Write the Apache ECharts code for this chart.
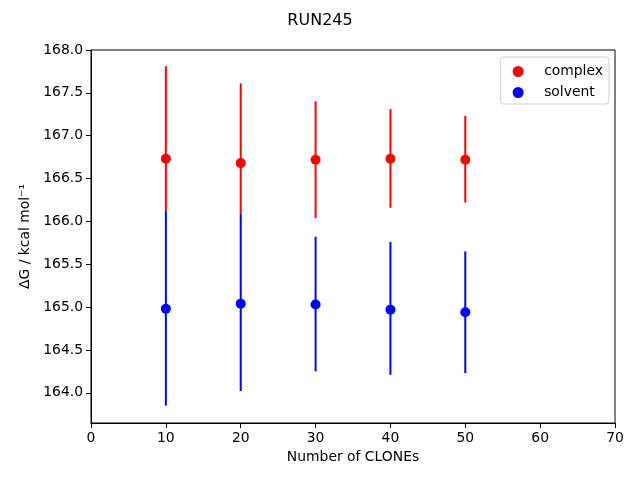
<!DOCTYPE html>
<html>
<head>
<meta charset="utf-8">
<script src="https://cdn.jsdelivr.net/npm/echarts@6/dist/echarts.min.js"></script>
<style>html,body{margin:0;padding:0;background:#fff}#c{width:640px;height:480px}</style>
</head>
<body>
<div id="c"></div>
<script>
var clones = [10, 20, 30, 40, 50];
var complexMean = [166.73, 166.68, 166.72, 166.73, 166.72];
var complexLow  = [166.12, 166.09, 166.04, 166.16, 166.22];
var complexHigh = [167.81, 167.61, 167.40, 167.31, 167.23];
var solventMean = [164.98, 165.04, 165.03, 164.97, 164.94];
var solventLow  = [163.85, 164.02, 164.25, 164.21, 164.23];
var solventHigh = [166.12, 166.09, 165.82, 165.76, 165.65];
var yTicks = [164.0, 164.5, 165.0, 165.5, 166.0, 166.5, 167.0, 167.5, 168.0];

var FONT = 'DejaVu Sans';
function pts(m){ return clones.map(function(x,i){return [x, m[i]];}); }
function errs(lo, hi){ return clones.map(function(x,i){return [x, lo[i], hi[i]];}); }
function errSeries(name, lo, hi, color){
  return {
    name: name, type: 'custom', z: 2,
    data: errs(lo, hi),
    encode: {x: 0, y: [1, 2]},
    renderItem: function(params, api){
      var a = api.coord([api.value(0), api.value(1)]);
      var b = api.coord([api.value(0), api.value(2)]);
      return {type: 'line', shape: {x1: a[0], y1: a[1], x2: b[0], y2: b[1]},
              style: {stroke: color, lineWidth: 2}};
    }
  };
}
var chart = echarts.init(document.getElementById('c'), null, {renderer: 'canvas'});
chart.setOption({
  animation: false,
  backgroundColor: '#fff',
  title: {text: 'RUN245', left: 'center', top: 8,
          textStyle: {fontFamily: FONT, fontSize: 16, fontWeight: 'normal', color: '#000'}},
  grid: {left: 91, right: 25, top: 50, bottom: 57, show: true, borderColor: '#000', borderWidth: 1, containLabel: false},
  legend: {
    orient: 'vertical', right: 31, top: 57,
    data: ['complex', 'solvent'],
    icon: 'circle', itemWidth: 22, itemHeight: 11, itemGap: 7,
    padding: [7.5, 6, 4.5, 12],
    borderColor: '#d0d0d0', borderWidth: 1, borderRadius: 3,
    textStyle: {fontFamily: FONT, fontSize: 13.9, color: '#000', padding: [0, 0, 0, 10]}
  },
  xAxis: {
    type: 'value', min: 0, max: 70, interval: 10,
    name: 'Number of CLONEs', nameLocation: 'middle', nameGap: 27,
    nameTextStyle: {fontFamily: FONT, fontSize: 13.9, color: '#000'},
    axisLine: {show: true, lineStyle: {color: '#000', width: 1}},
    axisTick: {show: true, inside: false, length: 5, lineStyle: {color: '#000'}},
    axisLabel: {fontFamily: FONT, fontSize: 13.9, color: '#000', margin: 8},
    splitLine: {show: false}
  },
  yAxis: {
    type: 'value', min: 163.647, max: 168.0,
    name: 'ΔG / kcal mol⁻¹', nameLocation: 'middle', nameGap: 58, nameRotate: 90,
    nameTextStyle: {fontFamily: FONT, fontSize: 13.9, color: '#000'},
    axisLine: {show: true, lineStyle: {color: '#000', width: 1}},
    axisTick: {show: true, inside: false, length: 5, lineStyle: {color: '#000'}, customValues: yTicks},
    axisLabel: {fontFamily: FONT, fontSize: 13.9, color: '#000', margin: 8, customValues: yTicks,
                formatter: function(v){ return v.toFixed(1); }},
    splitLine: {show: false}
  },
  series: [
    {name: 'complex', type: 'scatter', data: pts(complexMean), symbol: 'circle', symbolSize: 10,
     itemStyle: {color: '#ff0000', opacity: 1}, z: 3},
    {name: 'solvent', type: 'scatter', data: pts(solventMean), symbol: 'circle', symbolSize: 10,
     itemStyle: {color: '#0000ff', opacity: 1}, z: 3},
    errSeries('complex err', complexLow, complexHigh, '#ff0000'),
    errSeries('solvent err', solventLow, solventHigh, '#0000ff')
  ]
});
</script>
</body>
</html>
